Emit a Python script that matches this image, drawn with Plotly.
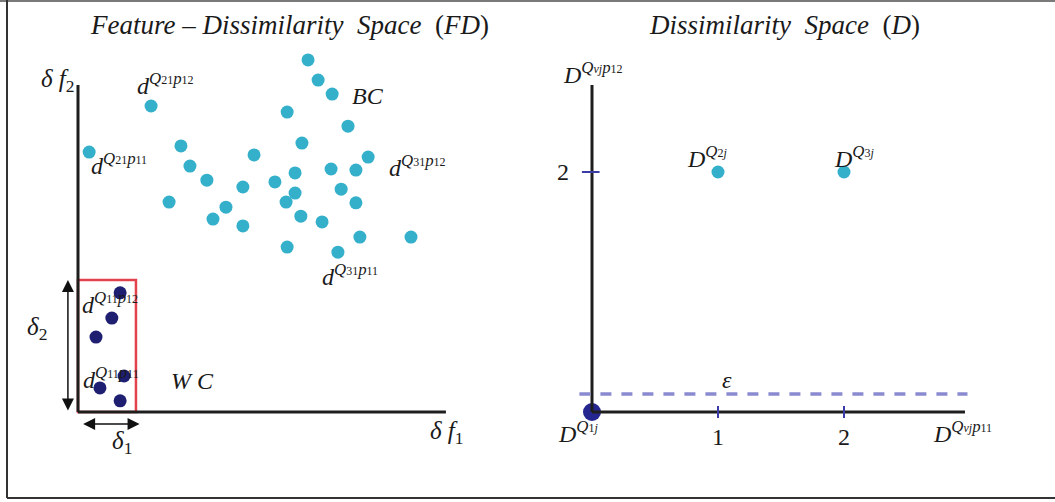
import plotly.graph_objects as go

W, H = 1055, 502

# ---------------- data: Feature-Dissimilarity space (FD) ----------------
# between-class dissimilarities (BC)
bc_df1 = [6.39, 6.67, 7.06, 2.03, 5.81, 7.50, 0.31, 2.86, 6.22, 4.89, 8.06,
          3.11, 7.03, 7.72, 6.03, 3.58, 5.47, 4.58, 7.31, 6.03, 5.78, 7.72,
          2.53, 4.11, 6.19, 3.75, 6.78, 4.58, 7.83, 9.25, 5.81, 7.22]
bc_df2 = [9.78, 9.22, 8.83, 8.50, 8.33, 7.94, 7.22, 7.39, 7.47, 7.14, 7.08,
          6.83, 6.75, 6.72, 6.64, 6.44, 6.39, 6.25, 6.19, 6.08, 5.83, 5.81,
          5.83, 5.69, 5.44, 5.36, 5.28, 5.17, 4.86, 4.86, 4.58, 4.44]
# within-class dissimilarities (WC)
wc_df1 = [1.17, 0.94, 0.50, 1.28, 0.61, 1.17]
wc_df2 = [3.31, 2.61, 2.08, 1.00, 0.67, 0.31]
delta1 = 1.61
delta2 = 3.67
fd_xmax = 10.22
fd_ymax = 9.08

# ---------------- data: Dissimilarity space (D) ----------------
d_names = ["Q1j", "Q2j", "Q3j"]
d_x = [0, 1, 2]
d_y = [0, 2, 2]
d_xticks = [1, 2]
d_yticks = [2]
epsilon = 0.15
d_xmax = 2.96
d_ymax = 2.725

CYAN = "#34b0cb"
NAVY = "#1f1f72"
AXC = "#1e1e1e"
SERIF = "Liberation Serif"
TXT = "#1a1a1a"

fig = go.Figure()

def px_dom_x(a, b):
    return [a / W, b / W]

def px_dom_y(top, bottom):
    return [1 - bottom / H, 1 - top / H]

fig.update_layout(
    width=W, height=H, autosize=False,
    margin=dict(l=0, r=0, t=0, b=0),
    paper_bgcolor="white", plot_bgcolor="white",
    showlegend=False,
    font=dict(family=SERIF, color=TXT, size=20),
    xaxis=dict(domain=px_dom_x(6, 474), range=[-2, 11], visible=False, fixedrange=True),
    yaxis=dict(domain=px_dom_y(52, 448), range=[-1, 10], visible=False, fixedrange=True),
    xaxis2=dict(domain=px_dom_x(560, 1000), range=[-32 / 126, 408 / 126], visible=False,
                anchor="y2", fixedrange=True),
    yaxis2=dict(domain=px_dom_y(52, 448), range=[-0.3, 3.0], visible=False,
                anchor="x2", fixedrange=True),
)

shapes = []
ann = []

# outer frame
shapes.append(dict(type="line", xref="paper", yref="paper", x0=0, x1=1, y0=1 - 1 / H, y1=1 - 1 / H,
                   line=dict(color="#7a7a7a", width=2)))
shapes.append(dict(type="line", xref="paper", yref="paper", x0=7 / W, x1=7 / W, y0=1, y1=1 - 498 / H,
                   line=dict(color="#333", width=2)))
shapes.append(dict(type="line", xref="paper", yref="paper", x0=7 / W, x1=1, y0=1 - 498 / H, y1=1 - 498 / H,
                   line=dict(color="#333", width=2)))

# ---------- left panel ----------
# WC box
shapes.append(dict(type="rect", xref="x", yref="y", x0=0, x1=delta1, y0=0, y1=delta2,
                   line=dict(color="#e2424c", width=2.5)))
# axes
shapes.append(dict(type="line", xref="x", yref="y", x0=0, x1=0, y0=0, y1=fd_ymax,
                   line=dict(color=AXC, width=3)))
shapes.append(dict(type="line", xref="x", yref="y", x0=0, x1=fd_xmax, y0=0, y1=0,
                   line=dict(color=AXC, width=3)))

fig.add_trace(go.Scatter(x=bc_df1, y=bc_df2, mode="markers", xaxis="x", yaxis="y",
                         marker=dict(size=13, color=CYAN), cliponaxis=False))
fig.add_trace(go.Scatter(x=wc_df1, y=wc_df2, mode="markers", xaxis="x", yaxis="y",
                         marker=dict(size=13, color=NAVY), cliponaxis=False))

# double arrows delta2 / delta1
for (x0, y0, x1, y1) in [(-0.28, 0, -0.28, delta2), (0.1, -0.33, delta1 + 0.1, -0.33)]:
    ann.append(dict(xref="x", yref="y", axref="x", ayref="y", x=x1, y=y1, ax=x0, ay=y0,
                    text="", showarrow=True, arrowhead=2, arrowside="end+start",
                    arrowsize=1.6, arrowwidth=1.5, arrowcolor="#111"))

SUBS = "<span style='font-size:12px'>%s</span>"

def dlab(q, p):
    return ("<i>d</i><sup><i>Q</i>" + SUBS % q + "<i>p</i>" + SUBS % p + "</sup>")

left_labels = [
    ("<i>δ f</i><sub>2</sub>", -0.55, 9.22, 25),
    (dlab("21", "12"), 2.42, 9.11, 24),
    (dlab("21", "11"), 1.14, 6.89, 24),
    ("<i>BC</i>", 8.06, 8.78, 24),
    (dlab("31", "12"), 9.42, 6.83, 24),
    (dlab("31", "11"), 7.56, 3.81, 24),
    (dlab("11", "12"), 0.89, 3.03, 24),
    (dlab("11", "11"), 0.92, 0.94, 24),
    ("<i>W C</i>", 3.17, 0.86, 24),
    ("<i>δ</i><sub>2</sub>", -1.14, 2.31, 25),
    ("<i>δ</i><sub>1</sub>", 1.22, -0.86, 25),
    ("<i>δ f</i><sub>1</sub>", 10.25, -0.56, 25),
]
for t, x, y, s in left_labels:
    ann.append(dict(xref="x", yref="y", x=x, y=y, text=t, showarrow=False,
                    xanchor="center", yanchor="middle",
                    font=dict(size=s, family=SERIF, color=TXT)))

# ---------- right panel ----------
shapes.append(dict(type="line", xref="x2", yref="y2", x0=0, x1=0, y0=0, y1=d_ymax,
                   line=dict(color=AXC, width=3)))
shapes.append(dict(type="line", xref="x2", yref="y2", x0=0, x1=d_xmax, y0=0, y1=0,
                   line=dict(color=AXC, width=3)))
shapes.append(dict(type="line", xref="x2", yref="y2", x0=-0.1, x1=d_xmax + 0.02,
                   y0=epsilon, y1=epsilon,
                   line=dict(color="#8a8ad0", width=3.5, dash="11px,10px")))
for v in d_xticks:
    shapes.append(dict(type="line", xref="x2", yref="y2", x0=v, x1=v, y0=-0.05, y1=0.05,
                       line=dict(color="#3b3ba8", width=2)))
    ann.append(dict(xref="x2", yref="y2", x=v, y=-0.21, text=str(v), showarrow=False,
                    xanchor="center", yanchor="middle",
                    font=dict(size=24, family=SERIF, color=TXT)))
for v in d_yticks:
    shapes.append(dict(type="line", xref="x2", yref="y2", x0=-0.08, x1=0.06, y0=v, y1=v,
                       line=dict(color="#3b3ba8", width=2)))
    ann.append(dict(xref="x2", yref="y2", x=-0.23, y=v, text=str(v), showarrow=False,
                    xanchor="center", yanchor="middle",
                    font=dict(size=24, family=SERIF, color=TXT)))

fig.add_trace(go.Scatter(x=d_x[1:], y=d_y[1:], mode="markers", xaxis="x2", yaxis="y2",
                         marker=dict(size=13, color=CYAN), cliponaxis=False))
fig.add_trace(go.Scatter(x=d_x[:1], y=d_y[:1], mode="markers", xaxis="x2", yaxis="y2",
                         marker=dict(size=18, color="#262690"), cliponaxis=False))

def Dlab(sub):
    return "<i>D</i><sup><i>Q</i>" + SUBS % sub + "</sup>"

def Daxis(p):
    return "<i>D</i><sup><i>Q</i>" + SUBS % "<i>vj</i>" + "<i>p</i>" + SUBS % p + "</sup>"

right_labels = [
    (Daxis("12"), 0.01, 2.825, 24),
    (Dlab("2<i>j</i>"), d_x[1] - 0.09, d_y[1] + 0.125, 24),
    (Dlab("3<i>j</i>"), d_x[2] + 0.08, d_y[2] + 0.125, 24),
    (Dlab("1<i>j</i>"), d_x[0] - 0.11, d_y[0] - 0.167, 24),
    ("<i>ε</i>", 1.07, epsilon + 0.117, 24),
    (Daxis("11"), 2.94, -0.167, 24),
]
for t, x, y, s in right_labels:
    ann.append(dict(xref="x2", yref="y2", x=x, y=y, text=t, showarrow=False,
                    xanchor="center", yanchor="middle",
                    font=dict(size=s, family=SERIF, color=TXT)))

# titles
sp = "\u00a0"
ann.append(dict(xref="paper", yref="paper", x=289 / W, y=1 - 25 / H, showarrow=False,
                xanchor="center", yanchor="middle",
                text="<i>Feature</i>" + sp + "–" + sp + "<i>Dissimilarity</i>" + sp * 2 +
                     "<i>Space</i>" + sp * 2 + "(<i>FD</i>)",
                font=dict(size=27, family=SERIF, color=TXT)))
ann.append(dict(xref="paper", yref="paper", x=784 / W, y=1 - 25 / H, showarrow=False,
                xanchor="center", yanchor="middle",
                text="<i>Dissimilarity</i>" + sp * 2 + "<i>Space</i>" + sp * 2 + "(<i>D</i>)",
                font=dict(size=27, family=SERIF, color=TXT)))

fig.update_layout(shapes=shapes, annotations=ann)
fig.write_html("out.html", config={"displayModeBar": False},
               post_script="document.body.style.margin='0';document.body.style.overflow='hidden';")
